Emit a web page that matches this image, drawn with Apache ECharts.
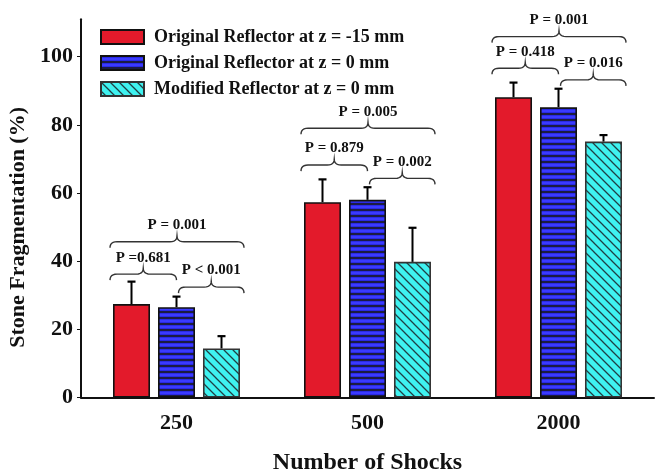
<!DOCTYPE html>
<html>
<head>
<meta charset="utf-8">
<script src="https://cdn.jsdelivr.net/npm/echarts@6/dist/echarts.min.js"></script>
<style>html,body{margin:0;padding:0;background:#fff}#c{width:661px;height:475px}</style>
</head>
<body>
<div id="c"></div>
<script>
// ---- data ----
const categories = ['250', '500', '2000'];
const seriesNames = ['Original Reflector at z = -15 mm', 'Original Reflector at z = 0 mm', 'Modified Reflector at z = 0 mm'];
const origMinus15 = [27.4, 57.3, 88.1];
const origMinus15SD = [6.6, 6.7, 4.3];
const origZero = [26.5, 58.0, 85.2];
const origZeroSD = [3.1, 3.7, 5.4];
const modifiedZero = [14.4, 39.8, 75.1];
const modifiedZeroSD = [3.6, 10.0, 1.9];
const yTicks = [0, 20, 40, 60, 80, 100];
// comparison brackets: category index, from series, to series, level (%), label
const bracketCat = [0, 0, 0, 1, 1, 1, 2, 2, 2];
const bracketFrom = [0, 1, 0, 0, 1, 0, 0, 1, 0];
const bracketTo = [1, 2, 2, 1, 2, 2, 1, 2, 2];
const bracketLevel = [36.2, 32.4, 45.7, 68.2, 64.3, 79.0, 96.6, 93.2, 105.9];
const bracketLabel = ['P =0.681', 'P < 0.001', 'P = 0.001', 'P = 0.879', 'P = 0.002', 'P = 0.005', 'P = 0.418', 'P = 0.016', 'P = 0.001'];

// ---- styles ----
const FONT = 'Liberation Serif';
const BAR_W = 37, GAP = 8, PITCH = BAR_W + GAP;

function stripePattern() {
  const c = document.createElement('canvas');
  c.width = 8; c.height = 6;
  const g = c.getContext('2d');
  g.fillStyle = '#1c1c44'; g.fillRect(0, 0, 8, 6);
  g.fillStyle = '#2a2ae6'; g.fillRect(0, 1, 8, 4);
  g.fillStyle = '#3b3bff'; g.fillRect(0, 2, 8, 2);
  return c;
}
function hatchPattern() {
  const s = 9;
  const c = document.createElement('canvas');
  c.width = s; c.height = s;
  const g = c.getContext('2d');
  g.fillStyle = '#3ff2f0'; g.fillRect(0, 0, s, s);
  g.strokeStyle = '#1f3f44'; g.lineWidth = 1.3;
  g.beginPath();
  g.moveTo(-s, -s); g.lineTo(2 * s, 2 * s);
  g.moveTo(-s, 0); g.lineTo(s, 2 * s);
  g.moveTo(0, -s); g.lineTo(2 * s, s);
  g.stroke();
  return c;
}

const fills = [
  '#e31a2b',
  { image: stripePattern(), repeat: 'repeat' },
  { image: hatchPattern(), repeat: 'repeat' }
];
const borders = ['#111', '#111', '#333'];
const values = [origMinus15, origZero, modifiedZero];
const sds = [origMinus15SD, origZeroSD, modifiedZeroSD];

const barSeries = values.map((v, s) => ({
  type: 'bar',
  name: seriesNames[s],
  data: v,
  barWidth: BAR_W,
  barGap: (GAP / BAR_W * 100).toFixed(1) + '%',
  itemStyle: { color: fills[s], borderColor: borders[s], borderWidth: 1.6 },
  z: 2
}));

const errData = [];
values.forEach((v, s) => v.forEach((val, c) => errData.push([c, s, val, sds[s][c]])));

const errSeries = {
  type: 'custom',
  z: 3,
  silent: true,
  data: errData,
  encode: { x: 0, y: 2 },
  renderItem: function (params, api) {
    const c = api.value(0), s = api.value(1), val = api.value(2), sd = api.value(3);
    const base = api.coord([c, val]);
    const top = api.coord([c, val + sd]);
    const x = base[0] + (s - 1) * PITCH;
    return {
      type: 'group',
      children: [
        { type: 'line', shape: { x1: x, y1: base[1], x2: x, y2: top[1] }, style: { stroke: '#000', lineWidth: 2 } },
        { type: 'line', shape: { x1: x - 4, y1: top[1], x2: x + 4, y2: top[1] }, style: { stroke: '#000', lineWidth: 2.2 } }
      ]
    };
  }
};

const brData = bracketCat.map((c, i) => [c, bracketFrom[i], bracketTo[i], bracketLevel[i], i]);

function quad(pts, p0, p1, p2) {
  for (let k = 1; k <= 6; k++) {
    const t = k / 6, u = 1 - t;
    pts.push([u * u * p0[0] + 2 * u * t * p1[0] + t * t * p2[0], u * u * p0[1] + 2 * u * t * p1[1] + t * t * p2[1]]);
  }
}

const bracketSeries = {
  type: 'custom',
  z: 4,
  silent: true,
  clip: false,
  data: brData,
  encode: { x: 0, y: 3 },
  renderItem: function (params, api) {
    const c = api.value(0), f = api.value(1), t = api.value(2), lev = api.value(3), idx = api.value(4);
    const p = api.coord([c, lev]);
    const cx = p[0], y = p[1];
    const x1 = f === 0 ? cx - PITCH - BAR_W / 2 - 3 : cx + 2;
    const x2 = t === 1 ? cx : cx + PITCH + BAR_W / 2 + 4;
    const xm = (x1 + x2) / 2;
    const h = 6, r = 7;
    const pts = [[x1, y + h]];
    quad(pts, [x1, y + h], [x1, y], [x1 + r, y]);
    pts.push([xm - r, y]);
    quad(pts, [xm - r, y], [xm, y], [xm, y - h]);
    quad(pts, [xm, y - h], [xm, y], [xm + r, y]);
    pts.push([x2 - r, y]);
    quad(pts, [x2 - r, y], [x2, y], [x2, y + h]);
    return {
      type: 'group',
      children: [
        { type: 'polyline', shape: { points: pts }, style: { stroke: '#333', lineWidth: 1.4, fill: null } },
        {
          type: 'text',
          style: {
            text: bracketLabel[idx], x: xm, y: y - h - 3,
            align: 'center', verticalAlign: 'bottom',
            font: 'bold 15px "' + FONT + '"', fill: '#111'
          }
        }
      ]
    };
  }
};

const chart = echarts.init(document.getElementById('c'), null, { renderer: 'canvas' });
chart.setOption({
  animation: false,
  backgroundColor: '#fff',
  grid: { left: 81, right: 7, top: 19.2, bottom: 77.5, containLabel: false, outerBoundsMode: 'none' },
  legend: {
    orient: 'vertical',
    left: 100,
    top: 28,
    padding: 0,
    itemWidth: 43,
    itemHeight: 14,
    itemGap: 8,
    icon: 'rect',
    data: seriesNames,
    textStyle: { fontFamily: FONT, fontWeight: 'bold', fontSize: 18, color: '#111', lineHeight: 14, padding: [0, 0, 0, 5] }
  },
  xAxis: {
    type: 'category',
    data: categories,
    name: 'Number of Shocks',
    nameLocation: 'middle',
    nameGap: 53,
    nameTextStyle: { fontFamily: FONT, fontWeight: 'bold', fontSize: 24, color: '#111' },
    axisLine: { lineStyle: { color: '#111', width: 2 } },
    axisTick: { alignWithLabel: true, length: 4, lineStyle: { color: '#111' } },
    axisLabel: { margin: 15, fontFamily: FONT, fontWeight: 'bold', fontSize: 22, color: '#111' }
  },
  yAxis: {
    type: 'value',
    min: 0,
    max: 111,
    name: 'Stone Fragmentation (%)',
    nameLocation: 'middle',
    nameGap: 40,
    nameTextStyle: { fontFamily: FONT, fontWeight: 'bold', fontSize: 22, color: '#111', padding: [0, 38, 0, 0] },
    splitLine: { show: false },
    axisLine: { show: true, lineStyle: { color: '#111', width: 2 } },
    axisTick: { show: true, length: 4, customValues: yTicks, lineStyle: { color: '#111' } },
    axisLabel: { margin: 8, customValues: yTicks, fontFamily: FONT, fontWeight: 'bold', fontSize: 22, color: '#111' }
  },
  series: barSeries.concat([errSeries, bracketSeries])
});
</script>
</body>
</html>
